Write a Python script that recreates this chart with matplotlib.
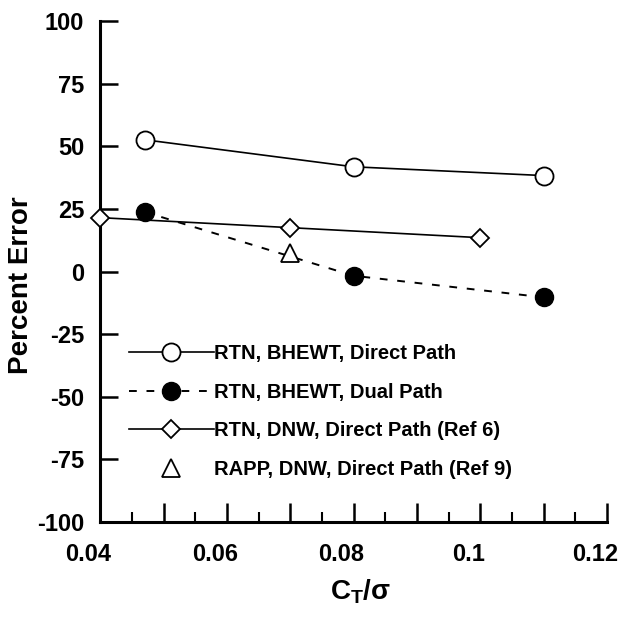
import matplotlib
matplotlib.use("Agg")
import matplotlib.pyplot as plt
from matplotlib.ticker import FixedLocator, FixedFormatter, MultipleLocator
from matplotlib.transforms import ScaledTranslation

plt.rcParams["font.family"] = ["Liberation Sans", "DejaVu Sans"]
plt.rcParams["font.weight"] = "bold"
plt.rcParams["axes.unicode_minus"] = False
plt.rcParams["mathtext.fontset"] = "custom"
plt.rcParams["mathtext.bf"] = "Liberation Sans:bold"
plt.rcParams["mathtext.rm"] = "Liberation Sans"
plt.rcParams["mathtext.default"] = "bf"

# RTN, BHEWT
ct_bhewt = [0.047, 0.080, 0.110]
err_direct = [52.6, 41.8, 38.3]
err_dual = [23.8, -1.7, -10.3]
# RTN, DNW
ct_dnw = [0.040, 0.070, 0.100]
err_dnw = [21.5, 17.5, 13.5]
# RAPP, DNW
ct_rapp = [0.070]
err_rapp = [7.5]

labels = ["RTN, BHEWT, Direct Path",
          "RTN, BHEWT, Dual Path",
          "RTN, DNW, Direct Path (Ref 6)",
          "RAPP, DNW, Direct Path (Ref 9)"]
xtick_vals = [0.04, 0.05, 0.06, 0.07, 0.08, 0.09, 0.10, 0.11, 0.12]
xtick_text = ["0.04", "", "0.06", "", "0.08", "", "0.1", "", "0.12"]

fig = plt.figure(figsize=(6.26, 6.22), dpi=100)
ax = fig.add_axes([0.16, 0.1608, 0.8096, 0.8054])

ax.plot(ct_bhewt, err_direct, "-", color="k", lw=1.2, marker="o", ms=13,
        mfc="white", mec="k", mew=1.3, label=labels[0], clip_on=False)
ax.plot(ct_bhewt, err_dual, color="k", lw=1.4, dashes=(4, 5), marker="o",
        ms=13, mfc="k", mec="k", label=labels[1], clip_on=False)
ax.plot(ct_dnw, err_dnw, "-", color="k", lw=1.2, marker="D", ms=9,
        mfc="white", mec="k", mew=1.3, label=labels[2], clip_on=False, zorder=3)
ax.plot(ct_rapp, err_rapp, linestyle="none", marker="^", ms=13,
        mfc="white", mec="k", mew=1.3, label=labels[3], clip_on=False)

ax.set_xlim(0.04, 0.12)
ax.set_ylim(-100, 100)
ax.xaxis.set_major_locator(FixedLocator(xtick_vals))
ax.xaxis.set_major_formatter(FixedFormatter(xtick_text))
ax.xaxis.set_minor_locator(MultipleLocator(0.005))
ax.yaxis.set_major_locator(MultipleLocator(25))

for s in ["top", "right"]:
    ax.spines[s].set_visible(False)
for s in ["left", "bottom"]:
    ax.spines[s].set_linewidth(2.2)

ax.tick_params(axis="x", which="major", direction="in", length=14, width=1.8,
               labelsize=17, pad=15)
ax.tick_params(axis="x", which="minor", direction="in", length=7, width=1.5)
ax.tick_params(axis="y", which="major", direction="in", length=13, width=1.8,
               labelsize=17, pad=11.5)

# labels in the scan sit a little left of their ticks
shift = ScaledTranslation(-12 / 100, 0, fig.dpi_scale_trans)
for lbl in ax.get_xticklabels():
    lbl.set_transform(lbl.get_transform() + shift)

ax.set_xlabel(r"$C_T/\sigma$", fontsize=20)
ax.xaxis.set_label_coords(0.513, -0.11)
ax.set_ylabel("Percent Error", fontsize=20, fontweight="bold")
ax.yaxis.set_label_coords(-0.13, 0.473)

ax.legend(loc="lower left", bbox_to_anchor=(0.056, 0.086), frameon=False,
          fontsize=14.5, handlelength=4.23, handletextpad=0.0,
          labelspacing=0.975, borderpad=0, borderaxespad=0)

fig.savefig("out.png", dpi=100)
